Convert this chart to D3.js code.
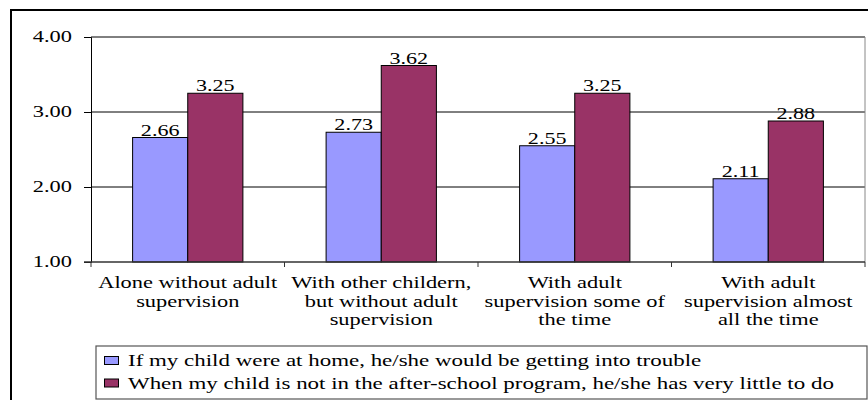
<!DOCTYPE html>
<html>
<head>
<meta charset="utf-8">
<script src="https://cdn.jsdelivr.net/npm/d3@7"></script>
<style>
  html, body { margin: 0; padding: 0; background: #fff; }
  svg { display: block; }
</style>
</head>
<body>
<svg id="chart" width="868" height="400"></svg>
<script>
// Survey categories (x axis), wrapped into lines
const categories = [
  ["Alone without adult", "supervision"],
  ["With other childern,", "but without adult", "supervision"],
  ["With adult", "supervision some of", "the time"],
  ["With adult", "supervision almost", "all the time"]
];
const seriesNames = [
  "If my child were at home, he/she would be getting into trouble",
  "When my child is not in the after-school program, he/she has very little to do"
];
const troubleValues = [2.66, 2.73, 2.55, 2.11];
const littleToDoValues = [3.25, 3.62, 3.25, 2.88];
const yTicks = [1, 2, 3, 4];
const colors = ["#9999FF", "#993366"];

const FONT = 16;
const FAMILY = "'Liberation Serif', Tinos, 'Times New Roman', 'DejaVu Serif', serif";

const svg = d3.select("#chart");

// outer chart frame
svg.append("rect")
  .attr("x", 11).attr("y", 10)
  .attr("width", 870).attr("height", 400)
  .attr("fill", "none").attr("stroke", "#000").attr("stroke-width", 2);

const plot = { left: 91, right: 865, top: 37, bottom: 262 };

const catIdx = d3.range(categories.length);
const x = d3.scaleBand()
  .domain(catIdx)
  .range([plot.left, plot.right])
  .paddingInner(0.43)
  .paddingOuter(0.215);
const xs = d3.scaleBand().domain([0, 1]).range([0, x.bandwidth()]);
const y = d3.scaleLinear().domain([1, 4]).range([plot.bottom, plot.top]);

// text drawn with a horizontal stretch (wide serif look)
function stretchedText(g, tx, ty, str, anchor, sx) {
  return g.append("text")
    .attr("transform", `translate(${tx},${ty}) scale(${sx},1)`)
    .attr("text-anchor", anchor)
    .attr("font-family", FAMILY)
    .attr("font-size", FONT)
    .attr("fill", "#000")
    .text(str);
}

// horizontal gridlines
svg.append("g")
  .selectAll("line")
  .data(yTicks.filter(t => t > 1))
  .join("line")
  .attr("x1", plot.left).attr("x2", plot.right)
  .attr("y1", d => y(d)).attr("y2", d => y(d))
  .attr("stroke", "#000").attr("stroke-width", 1);

// right edge of plot area
svg.append("line")
  .attr("x1", plot.right).attr("x2", plot.right)
  .attr("y1", plot.top).attr("y2", plot.bottom)
  .attr("stroke", "#888").attr("stroke-width", 1);

// bars
const data = catIdx.map(i => [troubleValues[i], littleToDoValues[i]]);
const groups = svg.append("g")
  .selectAll("g")
  .data(data)
  .join("g")
  .attr("transform", (d, i) => `translate(${x(i)},0)`);

groups.selectAll("rect")
  .data(d => d.map((v, s) => ({ v, s })))
  .join("rect")
  .attr("x", d => xs(d.s))
  .attr("y", d => y(d.v))
  .attr("width", xs.bandwidth())
  .attr("height", d => y(1) - y(d.v))
  .attr("fill", d => colors[d.s])
  .attr("stroke", "#000").attr("stroke-width", 1);

// value labels
groups.each(function (d) {
  const g = d3.select(this);
  d.forEach((v, s) => {
    stretchedText(g, xs(s) + xs.bandwidth() / 2, y(v) - 2, v.toFixed(2), "middle", 1.38);
  });
});

// y axis
const yAxis = svg.append("g")
  .attr("transform", `translate(${plot.left},0)`)
  .call(d3.axisLeft(y).tickValues(yTicks).tickSize(7).tickFormat(""));
yAxis.select(".domain").attr("stroke", "#000");
yAxis.selectAll(".tick line").attr("stroke", "#000");
yTicks.forEach(t => stretchedText(svg, 72, y(t) + 5, t.toFixed(2), "end", 1.4));

// x axis: line along the baseline with ticks at category boundaries
const xAxisG = svg.append("g");
xAxisG.append("line")
  .attr("x1", plot.left - 7).attr("x2", plot.right)
  .attr("y1", plot.bottom).attr("y2", plot.bottom)
  .attr("stroke", "#333").attr("stroke-width", 1.5);
const step = x.step();
xAxisG.selectAll("line.tick")
  .data(d3.range(categories.length + 1))
  .join("line")
  .attr("class", "tick")
  .attr("x1", i => plot.left + i * step).attr("x2", i => plot.left + i * step)
  .attr("y1", plot.bottom).attr("y2", plot.bottom + 5)
  .attr("stroke", "#333");

categories.forEach((lines, i) => {
  const cx = x(i) + x.bandwidth() / 2;
  lines.forEach((ln, k) => stretchedText(svg, cx, 288 + k * 18.5, ln, "middle", 1.4));
});

// legend
const legend = svg.append("g");
legend.append("rect")
  .attr("x", 96).attr("y", 346)
  .attr("width", 771).attr("height", 53)
  .attr("fill", "#fff").attr("stroke", "#555").attr("stroke-width", 1.2);
seriesNames.forEach((name, s) => {
  const ly = 366 + s * 22.5;
  legend.append("rect")
    .attr("x", 104.5).attr("y", ly - 9.5)
    .attr("width", 14).attr("height", 8)
    .attr("fill", colors[s]).attr("stroke", "#000");
  stretchedText(legend, 128, ly, name, "start", 1.435);
});
</script>
</body>
</html>
